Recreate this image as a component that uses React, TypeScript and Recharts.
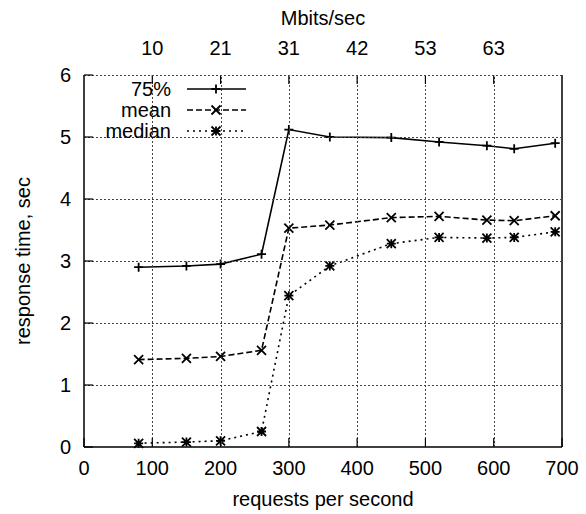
import { LineChart, Line, XAxis, YAxis, Legend } from 'recharts';

const requestsPerSec = [80, 150, 200, 260, 300, 360, 450, 520, 590, 630, 690];
const p75Time = [2.9, 2.92, 2.95, 3.11, 5.12, 5.0, 4.99, 4.92, 4.86, 4.81, 4.9];
const meanTime = [1.41, 1.43, 1.46, 1.56, 3.53, 3.58, 3.7, 3.72, 3.66, 3.65, 3.73];
const medianTime = [0.06, 0.08, 0.1, 0.25, 2.44, 2.92, 3.28, 3.38, 3.37, 3.38, 3.47];

const xTicks = [0, 100, 200, 300, 400, 500, 600, 700];
const yTicks = [0, 1, 2, 3, 4, 5, 6];
const mbitsTicks = [100, 200, 300, 400, 500, 600];
const mbitsLabels = ['10', '21', '31', '42', '53', '63'];

const FONT = '"Liberation Sans", Arial, Helvetica, sans-serif';
const FS = 20;
const GRID = '#444';

const W = 586;
const H = 514;
const MARGIN = { top: 35, right: 23, bottom: 17, left: 24 };
const TOP_AXIS_H = 40;
const BOTTOM_AXIS_H = 50;
const LEFT_AXIS_W = 60;
const RIGHT_AXIS_W = 1;
const PLOT_W = W - MARGIN.left - MARGIN.right - LEFT_AXIS_W - RIGHT_AXIS_W;
const PLOT_H = H - MARGIN.top - MARGIN.bottom - TOP_AXIS_H - BOTTOM_AXIS_H;

const data = requestsPerSec.map((x, i) => ({
  x,
  p75: p75Time[i],
  mean: meanTime[i],
  median: medianTime[i],
}));

type MarkerKind = 'plus' | 'cross' | 'star';

const seriesList: { key: string; name: string; dash?: string; marker: MarkerKind }[] = [
  { key: 'p75', name: '75%', marker: 'plus' },
  { key: 'mean', name: 'mean', dash: '6 3', marker: 'cross' },
  { key: 'median', name: 'median', dash: '2 4', marker: 'star' },
];

// gnuplot style point markers
function Marker({ cx, cy, kind }: { cx: number; cy: number; kind: MarkerKind }) {
  const r = 4.5;
  const plus = `M${cx - r},${cy}H${cx + r}M${cx},${cy - r}V${cy + r}`;
  const cross = `M${cx - r},${cy - r}L${cx + r},${cy + r}M${cx - r},${cy + r}L${cx + r},${cy - r}`;
  let d = plus;
  if (kind === 'cross') d = cross;
  if (kind === 'star') d = plus + cross;
  return <path d={d} stroke="#000" strokeWidth={1.8} fill="none" />;
}

// bottom ticks also draw the vertical dotted grid line
function BottomTick({ x, y, payload }: any) {
  const inner = payload.value > 0 && payload.value < 700;
  const gx = Math.round(x) + 0.5;
  return (
    <g>
      {inner && (
        <path d={`M${gx},${y}V${y - PLOT_H}`} stroke={GRID} strokeWidth={1} strokeDasharray="2 2" fill="none" />
      )}
      <line x1={x} y1={y} x2={x} y2={y - 9} stroke="#000" strokeWidth={1.2} />
      <text x={x} y={y + 14} dy="0.71em" textAnchor="middle" fontSize={FS} fontFamily={FONT} fill="#000">
        {payload.value}
      </text>
    </g>
  );
}

function TopTick({ x, y, payload, index }: any) {
  return (
    <g>
      <line x1={x} y1={y} x2={x} y2={y + 9} stroke="#000" strokeWidth={1.2} />
      <text x={x} y={y - 20} textAnchor="middle" fontSize={FS} fontFamily={FONT} fill="#000">
        {mbitsLabels[index] ?? payload.value}
      </text>
    </g>
  );
}

// left ticks also draw the horizontal dotted grid line
function LeftTick({ x, y, payload }: any) {
  const gy = Math.round(y) + 0.5;
  return (
    <g>
      {payload.value > 0 && (
        <path d={`M${x},${gy}H${x + PLOT_W}`} stroke={GRID} strokeWidth={1} strokeDasharray="2 2" fill="none" />
      )}
      <line x1={x} y1={y} x2={x + 9} y2={y} stroke="#000" strokeWidth={1.2} />
      <text x={x - 13} y={y} dy="0.36em" textAnchor="end" fontSize={FS} fontFamily={FONT} fill="#000">
        {payload.value}
      </text>
    </g>
  );
}

function RightTick({ x, y }: any) {
  return <line x1={x} y1={y} x2={x - 9} y2={y} stroke="#000" strokeWidth={1.2} />;
}

function LegendBox() {
  return (
    <svg width={260} height={150} style={{ display: 'block' }}>
      {seriesList.map((s, i) => {
        const cy = 89 + i * 21;
        return (
          <g key={s.key}>
            <text x={171} y={cy} dy="0.36em" textAnchor="end" fontSize={FS} fontFamily={FONT} fill="#000">
              {s.name}
            </text>
            <line x1={187} y1={cy} x2={246} y2={cy} stroke="#000" strokeWidth={1.6} strokeDasharray={s.dash} />
            <Marker cx={216} cy={cy} kind={s.marker} />
          </g>
        );
      })}
    </svg>
  );
}

export default function App() {
  return (
    <div style={{ position: 'absolute', left: 0, top: 0, width: W, height: H, background: '#fff' }}>
      <style>{'body{margin:0;overflow:hidden}'}</style>
      <LineChart width={W} height={H} data={data} margin={MARGIN} style={{ fontFamily: FONT }}>
        <XAxis
          xAxisId="bottom"
          dataKey="x"
          type="number"
          domain={[0, 700]}
          ticks={xTicks}
          interval={0}
          height={BOTTOM_AXIS_H}
          tickSize={0}
          tickMargin={0}
          tickLine={false}
          tick={<BottomTick />}
          axisLine={{ stroke: '#000', strokeWidth: 1.5 }}
          label={({ viewBox }: any) => (
            <text
              x={viewBox.x + viewBox.width / 2}
              y={viewBox.y + 59}
              textAnchor="middle"
              fontSize={FS}
              fontFamily={FONT}
              fill="#000"
            >
              requests per second
            </text>
          )}
        />
        <XAxis
          xAxisId="top"
          dataKey="x"
          type="number"
          orientation="top"
          domain={[0, 700]}
          ticks={mbitsTicks}
          interval={0}
          height={TOP_AXIS_H}
          tickSize={0}
          tickMargin={0}
          tickLine={false}
          tick={<TopTick />}
          axisLine={false}
          label={({ viewBox }: any) => (
            <text
              x={viewBox.x + viewBox.width / 2}
              y={viewBox.y - 10}
              textAnchor="middle"
              fontSize={FS}
              fontFamily={FONT}
              fill="#000"
            >
              Mbits/sec
            </text>
          )}
        />
        <YAxis
          yAxisId="left"
          type="number"
          domain={[0, 6]}
          ticks={yTicks}
          interval={0}
          width={LEFT_AXIS_W}
          tickSize={0}
          tickMargin={0}
          tickLine={false}
          tick={<LeftTick />}
          axisLine={{ stroke: '#000', strokeWidth: 1.5 }}
          label={({ viewBox }: any) => {
            const cx = viewBox.x - 1;
            const cy = viewBox.y + viewBox.height / 2;
            return (
              <text
                x={cx}
                y={cy}
                dy="0.36em"
                transform={`rotate(-90 ${cx} ${cy})`}
                textAnchor="middle"
                fontSize={FS}
                fontFamily={FONT}
                fill="#000"
              >
                response time, sec
              </text>
            );
          }}
        />
        <YAxis
          yAxisId="right"
          orientation="right"
          type="number"
          domain={[0, 6]}
          ticks={yTicks}
          interval={0}
          width={RIGHT_AXIS_W}
          tickSize={0}
          tickMargin={0}
          tickLine={false}
          tick={<RightTick />}
          axisLine={{ stroke: '#000', strokeWidth: 1.5 }}
        />
        <Legend
          layout="vertical"
          align="center"
          verticalAlign="middle"
          wrapperStyle={{ left: 0, top: 0, width: 260, height: 150 }}
          content={() => <LegendBox />}
        />
        {seriesList.map((s) => (
          <Line
            key={s.key}
            xAxisId="bottom"
            yAxisId="left"
            type="linear"
            dataKey={s.key}
            name={s.name}
            stroke="#000"
            strokeWidth={1.6}
            strokeDasharray={s.dash}
            isAnimationActive={false}
            dot={(p: any) => <Marker key={`${s.key}-${p.index}`} cx={p.cx} cy={p.cy} kind={s.marker} />}
            activeDot={false}
          />
        ))}
      </LineChart>
    </div>
  );
}
